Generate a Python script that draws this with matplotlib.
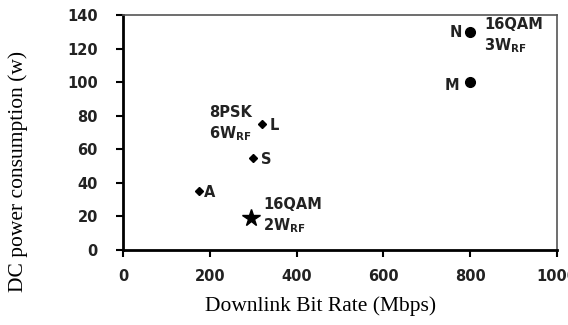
import matplotlib
matplotlib.use('Agg')
from matplotlib import pyplot as plt

# data
bit_rate = [175, 300, 320, 295, 800, 800]
power = [35, 55, 75, 19, 130, 100]
markers = ['D', 'D', 'D', '*', 'o', 'o']
point_names = ['A', 'S', 'L', '', 'N', 'M']
x_ticks = [0, 200, 400, 600, 800, 1000]
y_ticks = [0, 20, 40, 60, 80, 100, 120, 140]

plt.rcParams['mathtext.fontset'] = 'dejavusans'

fig = plt.figure(figsize=(5.68, 3.25), dpi=100)
ax = fig.add_axes([123/568, 1-250/325, (557-123)/568, (250-15)/325])

sizes = {'D': 4, '*': 13, 'o': 7}
for x, y, m in zip(bit_rate, power, markers):
    ax.plot(x, y, marker=m, color='black', markersize=sizes[m], linestyle='None')

tfont = dict(fontsize=10.5, fontweight='bold', color='#222222')
# point names
ax.annotate('A', (bit_rate[0], power[0]), xytext=(5, -1), textcoords='offset pixels', ha='left', va='center', **tfont)
ax.annotate('S', (bit_rate[1], power[1]), xytext=(8, -2), textcoords='offset pixels', ha='left', va='center', **tfont)
ax.annotate('L', (bit_rate[2], power[2]), xytext=(8, -1), textcoords='offset pixels', ha='left', va='center', **tfont)
ax.annotate('N', (bit_rate[4], power[4]), xytext=(-8, -1), textcoords='offset pixels', ha='right', va='center', **tfont)
ax.annotate('M', (bit_rate[5], power[5]), xytext=(-11, -3), textcoords='offset pixels', ha='right', va='center', **tfont)

# modulation notes
ax.annotate('8PSK\n' + r'6W$_{\mathbf{RF}}$', (bit_rate[2], power[2]), xytext=(-10, 0),
            textcoords='offset pixels', ha='right', va='center', linespacing=1.3, **tfont)
ax.annotate('16QAM\n' + r'2W$_{\mathbf{RF}}$', (bit_rate[3], power[3]), xytext=(12, 2),
            textcoords='offset pixels', ha='left', va='center', linespacing=1.3, **tfont)
ax.annotate('16QAM\n' + r'3W$_{\mathbf{RF}}$', (bit_rate[4], power[4]), xytext=(14, -4),
            textcoords='offset pixels', ha='left', va='center', linespacing=1.3, **tfont)

ax.set_xlim(0, 1000)
ax.set_ylim(0, 140)
ax.set_xticks(x_ticks)
ax.set_yticks(y_ticks)
ax.set_xticklabels([str(t) for t in x_ticks], fontsize=10.5, fontweight='bold', color='#222222')
ax.set_yticklabels([str(t) for t in y_ticks], fontsize=10.5, fontweight='bold', color='#222222')
ax.tick_params(axis='both', direction='out', length=5, width=1.5)
ax.tick_params(axis='y', pad=13)
ax.tick_params(axis='x', pad=9)

for s in ['left', 'bottom']:
    ax.spines[s].set_linewidth(2)
    ax.spines[s].set_color('black')
for s in ['top', 'right']:
    ax.spines[s].set_linewidth(1.2)
    ax.spines[s].set_color('#555555')

fig.text(321/568, 1-306/325, 'Downlink Bit Rate (Mbps)', fontfamily='Liberation Serif', fontsize=15.5,
         ha='center', va='center')
fig.text(18/568, 1-171/325, 'DC power consumption (w)', fontfamily='Liberation Serif', fontsize=15.5,
         rotation=90, ha='center', va='center')

fig.savefig('out.png', dpi=100)
